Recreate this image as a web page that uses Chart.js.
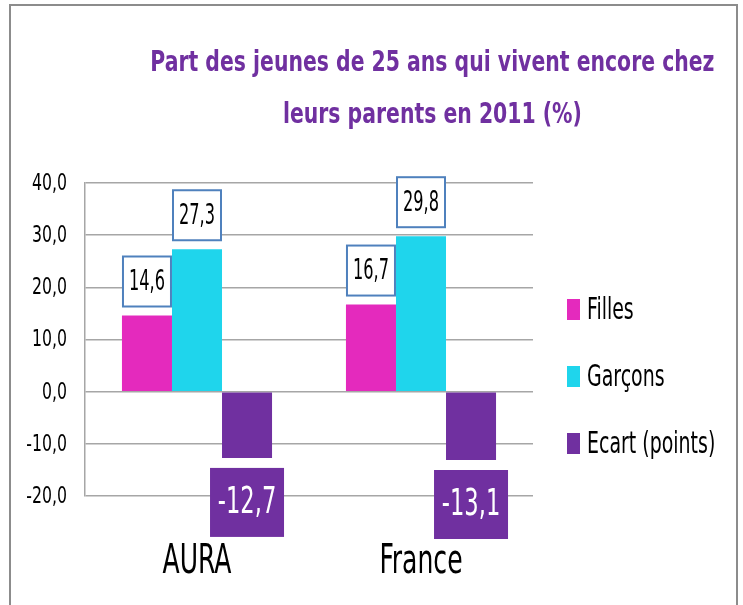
<!DOCTYPE html>
<html>
<head>
<meta charset="utf-8">
<script src="https://cdn.jsdelivr.net/npm/chart.js@4.4.1/dist/chart.umd.min.js"></script>
<style>
  html, body { margin: 0; padding: 0; background: #fff; }
  #wrap { position: relative; width: 743px; height: 605px; overflow: hidden; }
  #frame {
    position: absolute; left: 9px; top: 4px; width: 725px; height: 660px;
    border: 2px solid #8c8c8c; pointer-events: none;
  }
  #title {
    position: absolute; left: 40px; top: 36px; width: 785px;
    text-align: center; color: #7030a0; white-space: nowrap;
    font: bold 28px "DejaVu Sans Condensed", "DejaVu Sans", sans-serif;
    line-height: 52px;
    transform: scaleX(0.81); transform-origin: 392px 0;
  }
  canvas { position: absolute; left: 0; top: 0; }
</style>
</head>
<body>
<div id="wrap">
  <canvas id="chart" width="743" height="605"></canvas>
  <div id="title">Part des jeunes de 25 ans qui vivent encore chez<br>leurs parents en 2011 (%)</div>
  <div id="frame"></div>
</div>
<script>
const categories = ["AURA", "France"];
const filles = [14.6, 16.7];
const garcons = [27.3, 29.8];
const ecart = [-12.7, -13.1];
const seriesNames = ["Filles", "Garçons", "Ecart (points)"];
const seriesColors = ["#e42abd", "#1fd5ec", "#7030a0"];
const yTicks = [-20, -10, 0, 10, 20, 30, 40];

const FONT = '"DejaVu Sans Condensed", "DejaVu Sans", sans-serif';

function fmt(v) {
  return v.toFixed(1).replace(".", ",");
}

// narrow, tall text like the original Calibri look
function narrowText(ctx, txt, x, y, size, sx, color, align) {
  ctx.save();
  ctx.translate(x, y);
  ctx.scale(sx, 1);
  ctx.font = size + "px " + FONT;
  ctx.fillStyle = color;
  ctx.textAlign = align;
  ctx.textBaseline = "middle";
  ctx.fillText(txt, 0, 0);
  ctx.restore();
}

// axis labels
const axisLabels = {
  id: "axisLabels",
  afterDraw(chart) {
    const ctx = chart.ctx;
    const ys = chart.scales.y, xs = chart.scales.x;
    ys.ticks.forEach(t => {
      narrowText(ctx, fmt(t.value), 67, ys.getPixelForValue(t.value) + 1, 23, 0.76, "#000", "right");
    });
    chart.data.labels.forEach((lab, i) => {
      narrowText(ctx, lab, xs.getPixelForTick(i), 562, 41, 0.68, "#000", "center");
    });
  }
};

// value boxes above / below the bars
const valueBoxes = {
  id: "valueBoxes",
  afterDatasetsDraw(chart) {
    const ctx = chart.ctx;
    ctx.save();
    chart.data.datasets.forEach((ds, i) => {
      const meta = chart.getDatasetMeta(i);
      meta.data.forEach((bar, j) => {
        const v = ds.data[j];
        const txt = fmt(v);
        if (v >= 0) {
          const w = 48, h = 50;
          const x = bar.x - w / 2, y = bar.y - 9 - h;
          ctx.fillStyle = "#fff";
          ctx.fillRect(x, y, w, h);
          ctx.strokeStyle = "#4f81bd";
          ctx.lineWidth = 2;
          ctx.strokeRect(x, y, w, h);
          narrowText(ctx, txt, bar.x, y + h / 2 + 1, 29, 0.62, "#000", "center");
        } else {
          const w = 74, h = 69;
          const x = bar.x - w / 2, y = bar.y + 10;
          ctx.fillStyle = "#7030a0";
          ctx.fillRect(x, y, w, h);
          narrowText(ctx, txt, bar.x, y + h / 2 + 1, 37, 0.68, "#fff", "center");
        }
      });
    });
    ctx.restore();
  }
};

// legend on the right
const sideLegend = {
  id: "sideLegend",
  afterDraw(chart) {
    const ctx = chart.ctx;
    const area = chart.chartArea;
    chart.data.datasets.forEach((ds, i) => {
      const cy = area.top + 127 + i * 67;
      const x = area.right + 34;
      ctx.fillStyle = ds.backgroundColor;
      ctx.fillRect(x, cy - 11, 13, 21);
      narrowText(ctx, ds.label, x + 20, cy + 1, 31, 0.68, "#000", "left");
    });
  }
};

new Chart(document.getElementById("chart"), {
  type: "bar",
  data: {
    labels: categories,
    datasets: [
      { label: seriesNames[0], data: filles, backgroundColor: seriesColors[0] },
      { label: seriesNames[1], data: garcons, backgroundColor: seriesColors[1] },
      { label: seriesNames[2], data: ecart, backgroundColor: seriesColors[2] }
    ]
  },
  options: {
    responsive: false,
    animation: false,
    layout: { padding: { top: 183, right: 210, left: 0, bottom: 0 } },
    datasets: { bar: { categoryPercentage: 0.67, barPercentage: 1 } },
    plugins: {
      legend: { display: false },
      title: { display: false },
      tooltip: { enabled: false }
    },
    scales: {
      x: {
        grid: { display: false },
        border: { display: false },
        ticks: { display: false },
        afterFit(scale) { scale.height = 605 - 496; }
      },
      y: {
        min: -20,
        max: 40,
        afterBuildTicks(scale) { scale.ticks = yTicks.map(v => ({ value: v })); },
        grid: { color: "#a6a6a6", lineWidth: 1.5, drawTicks: false },
        border: { display: true, color: "#a6a6a6", width: 1.5 },
        ticks: { display: false },
        afterFit(scale) { scale.width = 85; }
      }
    }
  },
  plugins: [valueBoxes, sideLegend, axisLabels]
});
</script>
</body>
</html>
